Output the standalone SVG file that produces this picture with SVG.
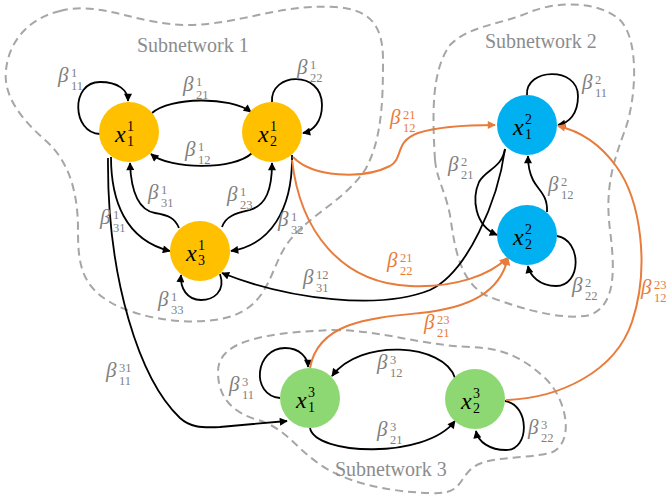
<svg xmlns="http://www.w3.org/2000/svg" width="670" height="499" viewBox="0 0 670 499">
<style>
.sub{fill:none;stroke:#A6A6A6;stroke-width:2;stroke-dasharray:8 5}
.st{font-family:"Liberation Serif",serif;font-size:20px;fill:#8C8C8C}
.e{fill:none;stroke:#000;stroke-width:1.8;marker-end:url(#ab)}
.o{fill:none;stroke:#E97B3B;stroke-width:2;marker-end:url(#ao)}
.nl{font-family:"Liberation Serif",serif;font-size:24px;font-style:italic;fill:#000}
.nd{font-size:14px;font-style:normal}
.lb{font-family:"Liberation Serif",serif;font-size:21px;font-style:italic;fill:#7F7F7F}
.lo{fill:#E97B3B}
.d{font-size:12.5px;font-style:normal}
</style>
<defs>
<marker id="ab" viewBox="0 0 10 10" refX="9" refY="5" markerWidth="9" markerHeight="8" markerUnits="userSpaceOnUse" orient="auto"><path d="M0,0 L10,5 L0,10 z" fill="#000"/></marker>
<marker id="ao" viewBox="0 0 10 10" refX="9" refY="5" markerWidth="9" markerHeight="8" markerUnits="userSpaceOnUse" orient="auto"><path d="M0,0 L10,5 L0,10 z" fill="#E97B3B"/></marker>
</defs>
<rect width="670" height="499" fill="#fff"/>
<g id="subnetworks">
<path class="sub" d="M 60,11 C 100,0 140,26 190,25 C 240,24 280,4 335,7 C 370,9 383,25 383,60 C 383,100 382,140 365,170 C 345,200 310,215 290,240 C 270,265 272,300 235,315 C 200,328 140,320 110,302 C 80,285 78,260 78,230 C 78,190 68,160 45,140 C 20,118 3,95 6,70 C 9,40 30,18 60,11 Z"/>
<path class="sub" d="M 435,160 C 432,110 432,70 450,45 C 470,25 500,25 530,12 C 560,0 600,2 620,20 C 640,40 636,100 625,130 C 612,165 605,190 610,230 C 615,270 616,305 590,315 C 560,322 510,305 485,295 C 460,280 455,250 450,215 C 445,190 437,180 435,160 Z"/>
<path class="sub" d="M 333,330 C 380,330 420,345 470,347 C 500,348 520,355 545,378 C 568,400 575,445 550,453 C 520,460 485,455 470,470 C 458,482 460,495 430,493 C 390,492 345,483 318,463 C 295,447 285,428 258,420 C 230,412 218,395 218,372 C 218,345 250,333 333,330 Z"/>
<text class="st" x="137" y="52">Subnetwork 1</text>
<text class="st" x="485" y="48">Subnetwork 2</text>
<text class="st" x="335" y="476">Subnetwork 3</text>
</g>
<g id="connectors">
<path class="e" d="M 100,134 C 72,133 70,82 100,82 C 118,82 128,90 128,101"/>
<path class="e" d="M 152,113 C 170,97 230,96 251,112"/>
<path class="e" d="M 252,153 C 235,170 170,170 151,154"/>
<path class="e" d="M 272,102 C 270,72 322,70 322,105 C 322,122 313,131 303,133"/>
<path class="e" d="M 179,228 C 175,218 168,215 155,213 C 138,210 131,190 130,163"/>
<path class="e" d="M 111,157 C 111,200 125,240 170,251"/>
<path class="e" d="M 292,155 C 293,210 270,245 231,251"/>
<path class="e" d="M 222,227 C 226,215 238,213 250,210 C 266,205 272,190 272,163"/>
<path class="e" d="M 220,274 C 226,292 213,300 201,300 C 187,300 180,288 181,275"/>
<path class="e" d="M 108,158 C 107,280 140,380 180,418 C 190,427 200,428 220,427 L 287,421"/>
<path class="e" d="M 505,149 C 498,200 468,272 430,290 C 380,310 290,300 222,273"/>
<path class="e" d="M 505,149 C 502,168 485,170 479,182 C 472,198 474,225 497,235"/>
<path class="e" d="M 547,212 C 548,195 538,190 533,180 C 529,172 528,165 528,156"/>
<path class="e" d="M 527,95 C 525,68 578,66 578,96 C 578,114 569,123 558,125"/>
<path class="e" d="M 557,236 C 582,240 582,286 556,286 C 540,286 530,276 528,266"/>
<path class="e" d="M 280,398 C 250,395 255,348 285,348 C 300,348 308,358 308,367"/>
<path class="e" d="M 455,378 C 444,343 360,338 332,376"/>
<path class="e" d="M 310,428 C 315,455 425,460 455,421"/>
<path class="e" d="M 505,401 C 530,405 530,450 506,450 C 490,450 478,442 476,431"/>
<path class="o" d="M 293,157 C 312,177 362,180 390,166 C 404,158 394,142 418,133 C 440,126 470,125 495,125"/>
<path class="o" d="M 292,160 C 300,230 340,283 410,286 C 455,288 490,275 507,258"/>
<path class="o" d="M 310,368 C 318,322 370,318 420,313 C 470,308 500,292 508,258"/>
<path class="o" d="M 506,400 C 560,398 615,372 632,322 C 650,268 641,200 616,166 C 600,144 580,131 558,126"/>
</g>
<g id="x1_1"><circle cx="129" cy="132" r="30" fill="#FFC000"/><text class="nl" x="115" y="142">x<tspan class="nd" x="127" y="131">1</tspan><tspan class="nd" x="127" y="146">1</tspan></text></g>
<g id="x2_1"><circle cx="272" cy="132" r="30" fill="#FFC000"/><text class="nl" x="258" y="142">x<tspan class="nd" x="270" y="131">1</tspan><tspan class="nd" x="270" y="146">2</tspan></text></g>
<g id="x3_1"><circle cx="200" cy="251" r="30" fill="#FFC000"/><text class="nl" x="186" y="261">x<tspan class="nd" x="198" y="250">1</tspan><tspan class="nd" x="198" y="265">3</tspan></text></g>
<g id="x1_2"><circle cx="527" cy="125" r="30" fill="#00B0F0"/><text class="nl" x="513" y="135">x<tspan class="nd" x="525" y="124">2</tspan><tspan class="nd" x="525" y="139">1</tspan></text></g>
<g id="x2_2"><circle cx="527" cy="235" r="30" fill="#00B0F0"/><text class="nl" x="513" y="245">x<tspan class="nd" x="525" y="234">2</tspan><tspan class="nd" x="525" y="249">2</tspan></text></g>
<g id="x1_3"><circle cx="310" cy="398" r="30" fill="#8ED873"/><text class="nl" x="296" y="408">x<tspan class="nd" x="308" y="397">3</tspan><tspan class="nd" x="308" y="412">1</tspan></text></g>
<g id="x2_3"><circle cx="475" cy="399" r="30" fill="#8ED873"/><text class="nl" x="461" y="409">x<tspan class="nd" x="473" y="398">3</tspan><tspan class="nd" x="473" y="413">2</tspan></text></g>
<g id="labels">
<text class="lb" x="58" y="82">β<tspan class="d" x="71" y="77">1</tspan><tspan class="d" x="71" y="90">11</tspan></text>
<text class="lb" x="183" y="91">β<tspan class="d" x="196" y="86">1</tspan><tspan class="d" x="196" y="99">21</tspan></text>
<text class="lb" x="297" y="74">β<tspan class="d" x="310" y="69">1</tspan><tspan class="d" x="310" y="82">22</tspan></text>
<text class="lb" x="185" y="156">β<tspan class="d" x="198" y="151">1</tspan><tspan class="d" x="198" y="164">12</tspan></text>
<text class="lb" x="148" y="199">β<tspan class="d" x="161" y="194">1</tspan><tspan class="d" x="161" y="207">31</tspan></text>
<text class="lb" x="227" y="201">β<tspan class="d" x="240" y="196">1</tspan><tspan class="d" x="240" y="209">23</tspan></text>
<text class="lb" x="100" y="224">β<tspan class="d" x="113" y="219">1</tspan><tspan class="d" x="113" y="232">31</tspan></text>
<text class="lb" x="278" y="226">β<tspan class="d" x="291" y="221">1</tspan><tspan class="d" x="291" y="234">32</tspan></text>
<text class="lb" x="158" y="306">β<tspan class="d" x="171" y="301">1</tspan><tspan class="d" x="171" y="314">33</tspan></text>
<text class="lb" x="303" y="284">β<tspan class="d" x="316" y="279">12</tspan><tspan class="d" x="316" y="292">31</tspan></text>
<text class="lb" x="106" y="377">β<tspan class="d" x="119" y="372">31</tspan><tspan class="d" x="119" y="385">11</tspan></text>
<text class="lb" x="229" y="391">β<tspan class="d" x="242" y="386">3</tspan><tspan class="d" x="242" y="399">11</tspan></text>
<text class="lb" x="377" y="369">β<tspan class="d" x="390" y="364">3</tspan><tspan class="d" x="390" y="377">12</tspan></text>
<text class="lb" x="377" y="436">β<tspan class="d" x="390" y="431">3</tspan><tspan class="d" x="390" y="444">21</tspan></text>
<text class="lb" x="528" y="434">β<tspan class="d" x="541" y="429">3</tspan><tspan class="d" x="541" y="442">22</tspan></text>
<text class="lb" x="582" y="89">β<tspan class="d" x="595" y="84">2</tspan><tspan class="d" x="595" y="97">11</tspan></text>
<text class="lb" x="448" y="171">β<tspan class="d" x="461" y="166">2</tspan><tspan class="d" x="461" y="179">21</tspan></text>
<text class="lb" x="548" y="191">β<tspan class="d" x="561" y="186">2</tspan><tspan class="d" x="561" y="199">12</tspan></text>
<text class="lb" x="572" y="292">β<tspan class="d" x="585" y="287">2</tspan><tspan class="d" x="585" y="300">22</tspan></text>
<text class="lb lo" x="390" y="124">β<tspan class="d" x="403" y="119">21</tspan><tspan class="d" x="403" y="132">12</tspan></text>
<text class="lb lo" x="387" y="267">β<tspan class="d" x="400" y="262">21</tspan><tspan class="d" x="400" y="275">22</tspan></text>
<text class="lb lo" x="424" y="329">β<tspan class="d" x="437" y="324">23</tspan><tspan class="d" x="437" y="337">21</tspan></text>
<text class="lb lo" x="641" y="294">β<tspan class="d" x="654" y="289">23</tspan><tspan class="d" x="654" y="302">12</tspan></text>
</g>
</svg>
